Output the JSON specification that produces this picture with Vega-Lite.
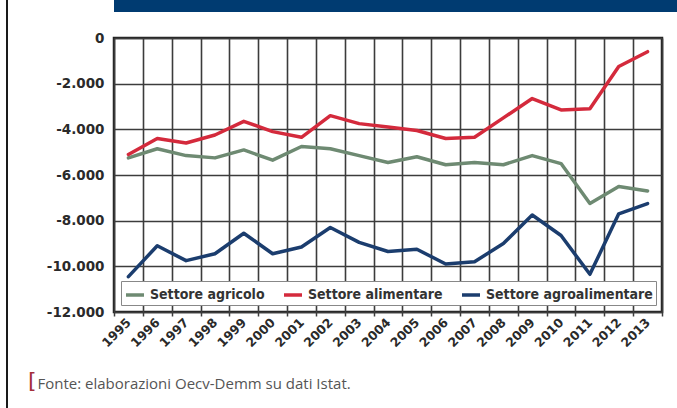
{
  "$schema": "https://vega.github.io/schema/vega-lite/v6.json",
  "padding": {"left": 6, "top": 0, "right": 0, "bottom": 0},
  "background": "white",
  "spacing": 0,
  "resolve": {"legend": {"color": "independent"}, "scale": {"color": "independent"}},
  "hconcat": [
    {
      "width": 2,
      "height": 408,
      "view": {"fill": "#1a1a1a", "stroke": null},
      "data": {"values": [{"t": ""}]},
      "mark": "text",
      "encoding": {"text": {"field": "t"}}
    },
    {
      "spacing": 17,
      "resolve": {"legend": {"color": "independent"}, "scale": {"color": "independent"}},
      "vconcat": [
        {
          "width": 669,
          "height": 12,
          "view": {"fill": "#003b71", "stroke": null},
          "data": {"values": [{"t": ""}]},
          "mark": "text",
          "encoding": {"text": {"field": "t"}}
        },
        {
          "width": 548,
          "height": 274,
          "view": {"stroke": "#222222", "strokeWidth": 2.5},
          "title": {"text": "[", "orient": "bottom", "anchor": "start", "frame": "group", "dx": -86, "dy": -24, "color": "#a3303c", "fontSize": 22, "fontWeight": "normal", "font": "DejaVu Sans"},
          "data": {"values": [
            {"anno": "1995", "settore": "Settore agricolo", "valore": -5250},
            {"anno": "1996", "settore": "Settore agricolo", "valore": -4850},
            {"anno": "1997", "settore": "Settore agricolo", "valore": -5150},
            {"anno": "1998", "settore": "Settore agricolo", "valore": -5250},
            {"anno": "1999", "settore": "Settore agricolo", "valore": -4900},
            {"anno": "2000", "settore": "Settore agricolo", "valore": -5350},
            {"anno": "2001", "settore": "Settore agricolo", "valore": -4750},
            {"anno": "2002", "settore": "Settore agricolo", "valore": -4850},
            {"anno": "2003", "settore": "Settore agricolo", "valore": -5150},
            {"anno": "2004", "settore": "Settore agricolo", "valore": -5450},
            {"anno": "2005", "settore": "Settore agricolo", "valore": -5200},
            {"anno": "2006", "settore": "Settore agricolo", "valore": -5550},
            {"anno": "2007", "settore": "Settore agricolo", "valore": -5450},
            {"anno": "2008", "settore": "Settore agricolo", "valore": -5550},
            {"anno": "2009", "settore": "Settore agricolo", "valore": -5150},
            {"anno": "2010", "settore": "Settore agricolo", "valore": -5500},
            {"anno": "2011", "settore": "Settore agricolo", "valore": -7250},
            {"anno": "2012", "settore": "Settore agricolo", "valore": -6500},
            {"anno": "2013", "settore": "Settore agricolo", "valore": -6700},
            {"anno": "1995", "settore": "Settore alimentare", "valore": -5100},
            {"anno": "1996", "settore": "Settore alimentare", "valore": -4400},
            {"anno": "1997", "settore": "Settore alimentare", "valore": -4600},
            {"anno": "1998", "settore": "Settore alimentare", "valore": -4250},
            {"anno": "1999", "settore": "Settore alimentare", "valore": -3650},
            {"anno": "2000", "settore": "Settore alimentare", "valore": -4100},
            {"anno": "2001", "settore": "Settore alimentare", "valore": -4350},
            {"anno": "2002", "settore": "Settore alimentare", "valore": -3400},
            {"anno": "2003", "settore": "Settore alimentare", "valore": -3750},
            {"anno": "2004", "settore": "Settore alimentare", "valore": -3900},
            {"anno": "2005", "settore": "Settore alimentare", "valore": -4050},
            {"anno": "2006", "settore": "Settore alimentare", "valore": -4400},
            {"anno": "2007", "settore": "Settore alimentare", "valore": -4350},
            {"anno": "2008", "settore": "Settore alimentare", "valore": -3500},
            {"anno": "2009", "settore": "Settore alimentare", "valore": -2650},
            {"anno": "2010", "settore": "Settore alimentare", "valore": -3150},
            {"anno": "2011", "settore": "Settore alimentare", "valore": -3100},
            {"anno": "2012", "settore": "Settore alimentare", "valore": -1250},
            {"anno": "2013", "settore": "Settore alimentare", "valore": -600},
            {"anno": "1995", "settore": "Settore agroalimentare", "valore": -10450},
            {"anno": "1996", "settore": "Settore agroalimentare", "valore": -9100},
            {"anno": "1997", "settore": "Settore agroalimentare", "valore": -9750},
            {"anno": "1998", "settore": "Settore agroalimentare", "valore": -9450},
            {"anno": "1999", "settore": "Settore agroalimentare", "valore": -8550},
            {"anno": "2000", "settore": "Settore agroalimentare", "valore": -9450},
            {"anno": "2001", "settore": "Settore agroalimentare", "valore": -9150},
            {"anno": "2002", "settore": "Settore agroalimentare", "valore": -8300},
            {"anno": "2003", "settore": "Settore agroalimentare", "valore": -8950},
            {"anno": "2004", "settore": "Settore agroalimentare", "valore": -9350},
            {"anno": "2005", "settore": "Settore agroalimentare", "valore": -9250},
            {"anno": "2006", "settore": "Settore agroalimentare", "valore": -9900},
            {"anno": "2007", "settore": "Settore agroalimentare", "valore": -9800},
            {"anno": "2008", "settore": "Settore agroalimentare", "valore": -9000},
            {"anno": "2009", "settore": "Settore agroalimentare", "valore": -7750},
            {"anno": "2010", "settore": "Settore agroalimentare", "valore": -8650},
            {"anno": "2011", "settore": "Settore agroalimentare", "valore": -10350},
            {"anno": "2012", "settore": "Settore agroalimentare", "valore": -7700},
            {"anno": "2013", "settore": "Settore agroalimentare", "valore": -7250}
          ]},
          "mark": {"type": "line", "strokeWidth": 3.5, "strokeJoin": "round", "strokeCap": "round"},
          "encoding": {
            "x": {
              "field": "anno",
              "type": "ordinal",
              "bandPosition": 0.5,
              "scale": {"type": "band", "paddingInner": 0, "paddingOuter": 0},
              "axis": {
                "tickBand": "extent",
                "grid": true,
                "gridColor": "#3c3c3c",
                "gridWidth": 1.6,
                "domain": false,
                "ticks": true,
                "tickColor": "#3c3c3c",
                "tickWidth": 1.5,
                "tickSize": 4,
                "labelAngle": -45,
                "labelAlign": "right",
                "labelBaseline": "middle",
                "labelPadding": 4,
                "labelFont": "DejaVu Sans",
                "labelFontWeight": "bold",
                "labelFontSize": 12.5,
                "labelColor": "#2a2a2a",
                "title": "Fonte: elaborazioni Oecv-Demm su dati Istat.",
                "titleX": -77,
                "titleY": 71,
                "titleAlign": "left",
                "titleBaseline": "middle",
                "titleFont": "Open Sans",
                "titleFontWeight": "normal",
                "titleFontSize": 15,
                "titleColor": "#555555"
              }
            },
            "y": {
              "field": "valore",
              "type": "quantitative",
              "scale": {"domain": [-12000, 0], "nice": false, "zero": false},
              "axis": {
                "values": [-12000, -10000, -8000, -6000, -4000, -2000, 0],
                "format": ",d",
                "title": null,
                "minExtent": 104,
                "labelPadding": 10,
                "ticks": false,
                "domain": false,
                "grid": true,
                "gridColor": "#3c3c3c",
                "gridWidth": 1.6,
                "labelFont": "DejaVu Sans",
                "labelFontWeight": "bold",
                "labelFontSize": 13.5,
                "labelColor": "#2a2a2a"
              }
            },
            "color": {
              "field": "settore",
              "type": "nominal",
              "scale": {
                "domain": ["Settore agricolo", "Settore alimentare", "Settore agroalimentare"],
                "range": ["#6e8a72", "#d42a3c", "#1b3d6e"]
              },
              "legend": {
                "orient": "bottom-left",
                "offset": 7,
                "direction": "horizontal",
                "title": null,
                "fillColor": "white",
                "strokeColor": "#888888",
                "padding": 3,
                "symbolType": "stroke",
                "symbolSize": 324,
                "symbolStrokeWidth": 3.5,
                "labelFont": "Liberation Sans Narrow, DejaVu Sans Condensed, sans-serif",
                "labelFontSize": 14,
                "labelFontWeight": "bold",
                "labelColor": "#333333",
                "labelLimit": 0,
                "labelOffset": 4,
                "columnPadding": 12
              }
            }
          }
        }
      ]
    }
  ],
  "config": {
    "locale": {"number": {"decimal": ",", "thousands": ".", "grouping": [3], "currency": ["€", ""], "minus": "-"}}
  }
}
